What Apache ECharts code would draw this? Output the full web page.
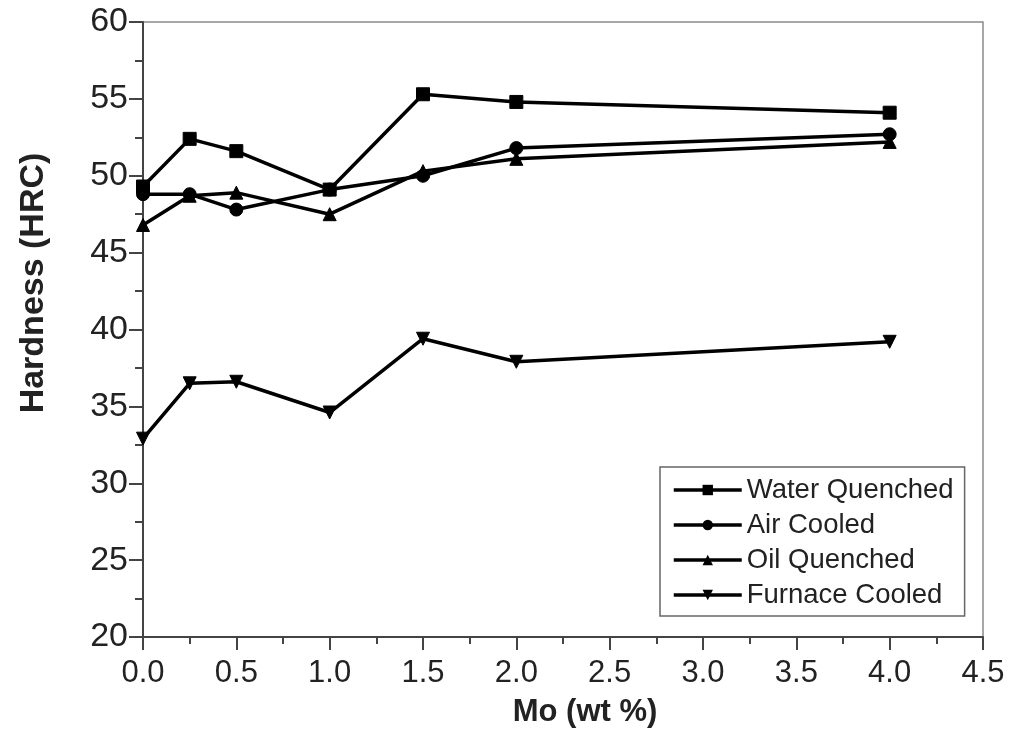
<!DOCTYPE html>
<html>
<head>
<meta charset="utf-8">
<script src="https://cdn.jsdelivr.net/npm/echarts@6/dist/echarts.min.js"></script>
<style>
html,body{margin:0;padding:0;background:#fff;}
#c{width:1011px;height:754px;}
</style>
</head>
<body>
<div id="c"></div>
<script>
const moContent = [0, 0.25, 0.5, 1.0, 1.5, 2.0, 4.0];
const waterQuenched = [49.3, 52.4, 51.6, 49.1, 55.3, 54.8, 54.1];
const airCooled = [48.8, 48.8, 47.8, 49.1, 50.0, 51.8, 52.7];
const oilQuenched = [46.8, 48.7, 48.9, 47.5, 50.3, 51.1, 52.2];
const furnaceCooled = [32.9, 36.5, 36.6, 34.6, 39.4, 37.9, 39.2];
const seriesNames = ['Water Quenched', 'Air Cooled', 'Oil Quenched', 'Furnace Cooled'];
const xTitle = 'Mo (wt %)';
const yTitle = 'Hardness (HRC)';

const FONT = '"Liberation Sans", Arial, Helvetica, sans-serif';
function pairs(vals){ return moContent.map((x,i)=>[x, vals[i]]); }

const symbols = [
  {symbol:'rect', rotate:0},
  {symbol:'circle', rotate:0},
  {symbol:'triangle', rotate:0},
  {symbol:'triangle', rotate:180}
];
const allVals = [waterQuenched, airCooled, oilQuenched, furnaceCooled];

const chart = echarts.init(document.getElementById('c'), null, {renderer:'canvas'});
chart.setOption({
  backgroundColor:'#fff',
  animation:false,
  grid:{left:143, right:28, top:22, bottom:117, show:true, borderColor:'#8a8a8a', borderWidth:1.5},
  xAxis:{
    type:'value', min:0, max:4.5, interval:0.5,
    axisLine:{show:true, onZero:false, lineStyle:{color:'#444', width:2}},
    axisTick:{show:true, inside:false, length:13, lineStyle:{color:'#444', width:2}},
    minorTick:{show:true, splitNumber:2, length:7, lineStyle:{color:'#444', width:2}},
    splitLine:{show:false},
    axisLabel:{margin:21, color:'#222', fontFamily:FONT, fontSize:31, formatter:v=>v.toFixed(1)}
  },
  yAxis:{
    type:'value', min:20, max:60, interval:5,
    axisLine:{show:true, onZero:false, lineStyle:{color:'#444', width:2}},
    axisTick:{show:true, inside:false, length:14, lineStyle:{color:'#444', width:2}},
    minorTick:{show:true, splitNumber:2, length:8, lineStyle:{color:'#444', width:2}},
    splitLine:{show:false},
    axisLabel:{margin:15, color:'#222', fontFamily:FONT, fontSize:34}
  },
  legend:{
    orient:'vertical', left:660, top:467,
    padding:[9,11,7,12], itemGap:7, itemWidth:68, itemHeight:13,
    borderColor:'#666', borderWidth:1.5, backgroundColor:'#fff',
    lineStyle:{width:3.5, color:'#000'},
    textStyle:{fontFamily:FONT, fontSize:27.5, color:'#222'},
    data:seriesNames
  },
  graphic:[
    {type:'text', x:34, y:283, rotation:Math.PI/2, style:{text:yTitle, font:'bold 34px '+FONT, fill:'#222', textAlign:'center', textVerticalAlign:'middle'}},
    {type:'text', x:585, y:712, style:{text:xTitle, font:'bold 31px '+FONT, fill:'#222', textAlign:'center', textVerticalAlign:'middle'}}
  ],
  series: seriesNames.map((name,i)=>({
    name:name, type:'line', data:pairs(allVals[i]),
    symbol:symbols[i].symbol, symbolRotate:symbols[i].rotate, symbolSize:13,
    showAllSymbol:true, clip:false,
    lineStyle:{color:'#000', width:3.5},
    itemStyle:{color:'#000', borderColor:'#000'},
    emphasis:{disabled:true}
  }))
});
</script>
</body>
</html>
